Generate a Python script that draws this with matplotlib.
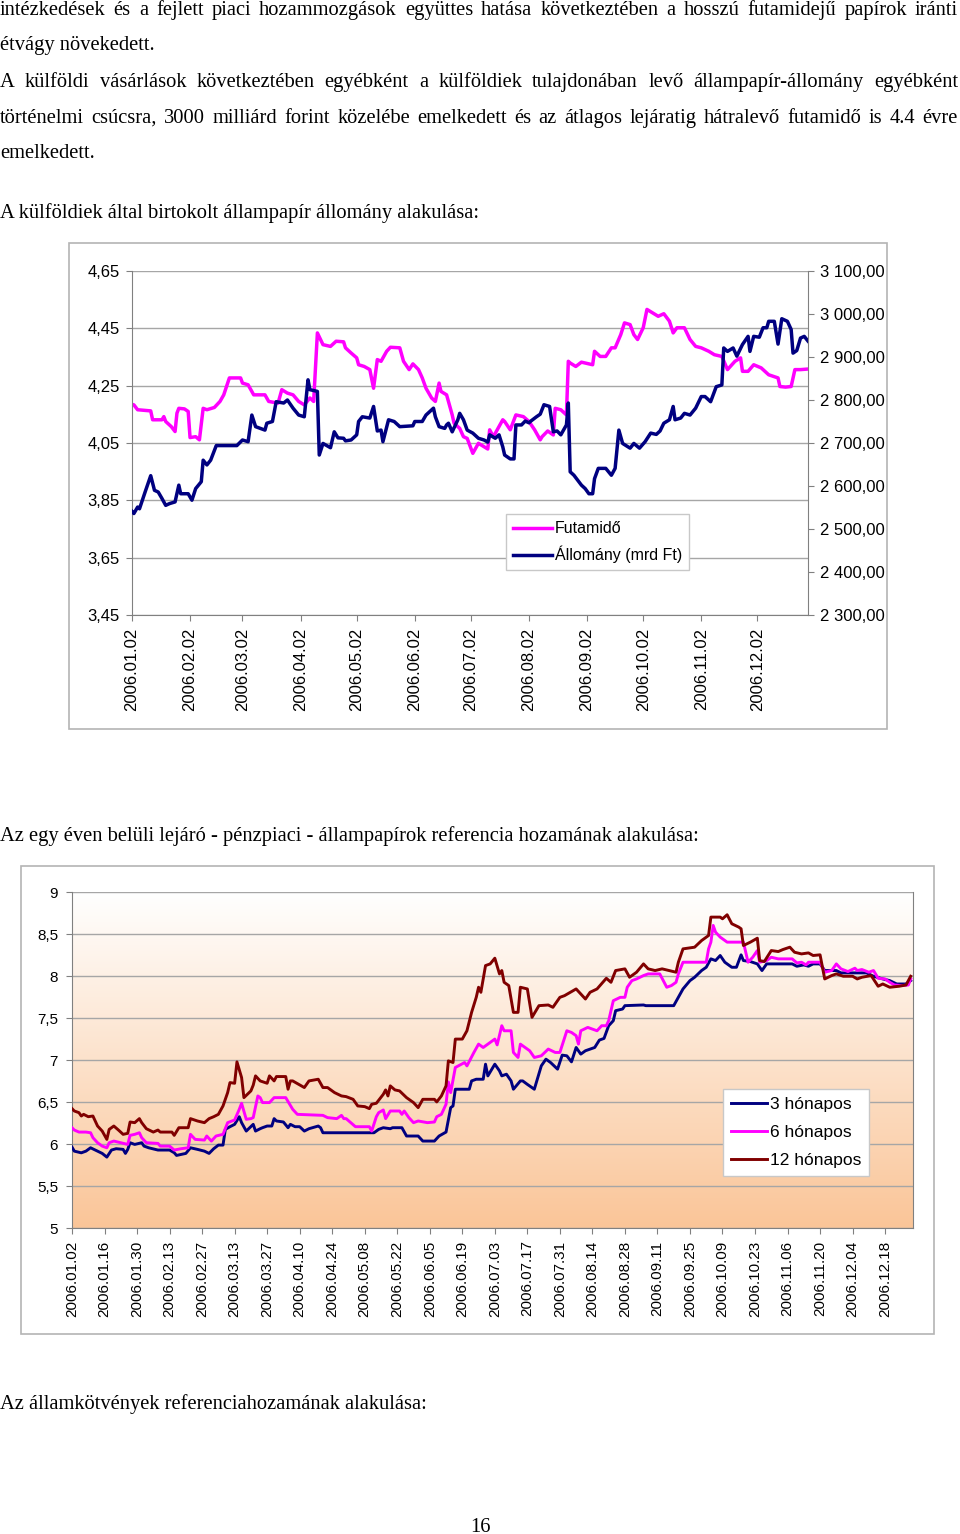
import numpy as np
import matplotlib
matplotlib.use('Agg')
import matplotlib.pyplot as plt
import matplotlib.dates as mdates
from matplotlib.patches import Rectangle
from matplotlib.ticker import FixedLocator, FuncFormatter

# ---------------- data ----------------
# Chart 1: days since 2006-01-02
fut_day = [0,1,3,10,11,16,17,18,21,23,
           24,25,28,30,31,34,36,38,40,44,
           47,49,52,58,59,62,65,71,73,78,
           80,83,86,89,92,95,97,99,102,106,
           109,113,114,117,120,121,124,127,129,131,
           133,136,138,143,145,148,150,153,155,157,
           160,162,164,165,168,171,172,175,177,179,
           182,185,188,190,191,193,196,198,199,202,
           205,209,212,215,218,219,222,225,226,229,
           232,233,234,237,240,242,246,247,250,253,
           256,258,261,263,266,268,270,273,275,278,
           281,284,287,289,291,295,298,301,304,308,
           311,315,318,322,325,326,329,332,336,340,
           345,346,349,352,354,357,361]
fut_val = [4.185,4.183,4.166,4.162,4.131,4.131,4.142,4.125,4.107,4.090,
           4.154,4.171,4.169,4.160,4.069,4.072,4.061,4.171,4.166,4.174,
           4.195,4.218,4.277,4.277,4.259,4.253,4.218,4.218,4.195,4.189,
           4.236,4.224,4.218,4.195,4.183,4.207,4.195,4.434,4.393,4.387,
           4.405,4.403,4.382,4.364,4.347,4.323,4.317,4.306,4.241,4.341,
           4.335,4.370,4.384,4.382,4.335,4.306,4.326,4.306,4.277,4.241,
           4.207,4.195,4.259,4.230,4.218,4.148,4.119,4.101,4.072,4.066,
           4.014,4.049,4.037,4.029,4.096,4.072,4.107,4.131,4.125,4.096,
           4.148,4.142,4.125,4.096,4.061,4.072,4.092,4.078,4.171,4.166,
           4.148,4.335,4.329,4.317,4.332,4.329,4.323,4.370,4.352,4.352,
           4.382,4.382,4.428,4.469,4.463,4.428,4.411,4.452,4.516,4.504,
           4.492,4.501,4.475,4.434,4.452,4.452,4.411,4.387,4.382,4.370,
           4.358,4.352,4.306,4.335,4.347,4.300,4.300,4.323,4.312,4.288,
           4.277,4.247,4.245,4.247,4.306,4.306,4.308]

all_day = [0,1,3,4,7,10,12,14,16,18,
           20,23,25,26,30,32,34,37,38,40,
           42,45,56,59,62,64,66,71,72,75,
           77,81,83,86,89,92,94,95,99,100,
           102,106,108,110,113,114,117,120,121,123,
           127,129,131,133,134,137,140,143,150,151,
           155,157,161,162,164,167,168,169,171,174,
           175,177,179,182,185,188,190,191,194,196,
           198,199,202,204,205,208,210,212,213,216,
           218,220,223,225,227,229,232,233,234,236,
           240,242,244,246,247,249,253,256,258,260,
           262,266,268,271,274,277,280,282,284,287,
           289,290,293,295,298,301,304,306,309,312,
           315,316,318,321,323,326,329,330,332,335,
           337,339,340,343,345,347,350,352,353,355,
           357,359,361]
all_val = [2541,2536,2551,2547,2586,2624,2590,2586,2571,2555,
           2559,2563,2602,2582,2582,2567,2594,2610,2660,2649,
           2660,2694,2694,2707,2703,2765,2738,2730,2746,2750,
           2796,2793,2800,2781,2765,2761,2847,2824,2820,2672,
           2699,2689,2726,2712,2711,2705,2707,2719,2750,2761,
           2758,2785,2728,2730,2703,2754,2750,2738,2740,2750,
           2750,2765,2781,2761,2738,2734,2742,2746,2726,2754,
           2769,2754,2730,2723,2711,2707,2702,2719,2711,2719,
           2691,2672,2663,2663,2742,2742,2751,2747,2751,2761,
           2767,2789,2785,2726,2728,2719,2742,2793,2633,2625,
           2602,2594,2582,2582,2617,2641,2641,2625,2641,2730,
           2699,2688,2699,2688,2703,2723,2720,2728,2746,2754,
           2785,2754,2758,2769,2765,2781,2808,2808,2796,2831,
           2835,2921,2913,2921,2902,2929,2948,2913,2948,2946,
           2968,2968,2983,2983,2930,2989,2983,2964,2909,2915,
           2944,2948,2937]

c1_tick_days = [0,31,59,90,120,151,181,212,243,273,304,334]
left_ticks = [3.45,3.65,3.85,4.05,4.25,4.45,4.65]
right_ticks = [2300,2400,2500,2600,2700,2800,2900,3000,3100]
c1_labels = ['Futamidő', 'Állomány (mrd Ft)']

# Chart 2
m3_day = [0,1,4,6,8,11,13,15,17,19,
          22,23,24,25,27,30,31,33,37,42,
          44,45,47,49,51,54,57,59,61,63,
          65,66,68,70,72,73,75,78,79,81,
          82,84,86,87,88,91,93,94,96,98,
          100,102,106,107,108,130,132,134,137,138,
          142,144,149,151,156,158,161,163,164,165,
          171,172,174,177,178,179,182,184,185,187,
          189,190,193,194,196,199,202,204,206,209,
          211,213,215,217,219,221,225,227,229,231,
          233,234,237,238,246,247,259,261,263,266,
          268,271,273,275,277,279,281,284,286,288,
          289,292,295,297,299,310,312,315,317,319,
          322,324,329,331,342,345,349,352,355,359,
          361]
m3_val = [5.963,5.915,5.895,5.915,5.955,5.915,5.888,5.844,5.928,5.944,
          5.936,5.888,5.936,6.015,5.995,6.015,5.975,5.955,5.928,5.928,
          5.896,5.864,5.876,5.888,5.955,5.936,5.915,5.888,5.944,5.987,
          5.987,6.174,6.206,6.234,6.325,6.254,6.154,6.234,6.154,6.182,
          6.194,6.214,6.214,6.302,6.274,6.262,6.194,6.234,6.206,6.206,
          6.154,6.182,6.214,6.194,6.134,6.134,6.174,6.194,6.182,6.194,
          6.194,6.095,6.095,6.035,6.035,6.095,6.142,6.433,6.453,6.652,
          6.652,6.751,6.771,6.771,6.950,6.811,6.950,6.871,6.811,6.831,
          6.751,6.652,6.751,6.751,6.710,6.652,6.930,7.010,6.970,6.891,
          7.058,7.050,6.978,7.149,7.070,7.110,7.149,7.237,7.257,7.408,
          7.468,7.587,7.607,7.647,7.655,7.647,7.647,7.746,7.846,7.945,
          7.985,8.065,8.104,8.204,8.184,8.244,8.164,8.104,8.104,8.252,
          8.184,8.172,8.144,8.065,8.144,8.144,8.116,8.132,8.116,8.144,
          8.144,8.065,8.065,8.037,8.037,7.997,7.965,7.945,7.905,7.905,
          7.945]

m6_day = [0,1,3,6,8,9,11,13,15,16,
          18,21,24,25,27,29,30,32,37,38,
          42,44,47,50,51,53,57,58,60,62,
          65,67,70,72,73,75,77,78,80,81,
          82,85,87,92,95,97,108,110,114,116,
          117,118,122,128,129,131,132,134,135,137,
          141,142,143,145,147,149,153,156,157,159,
          161,162,163,165,169,170,173,175,177,179,
          182,183,185,186,189,190,192,193,197,199,
          202,205,208,210,213,215,217,218,219,222,
          226,228,230,231,233,236,238,239,241,243,
          246,248,253,256,258,260,261,263,273,274,
          275,276,277,279,282,289,291,293,295,296,
          299,301,304,310,312,314,316,317,322,324,
          327,329,331,334,337,338,340,343,345,347,
          350,352,354,357,360,361]
m6_val = [6.194,6.166,6.142,6.142,6.134,6.075,6.015,5.975,5.955,6.015,
          6.035,6.015,5.995,6.103,6.115,6.134,6.075,6.015,6.007,5.975,
          5.975,5.928,5.944,5.955,6.115,6.055,6.047,6.095,6.035,6.095,
          6.115,6.254,6.286,6.413,6.485,6.294,6.302,6.314,6.572,6.552,
          6.493,6.493,6.552,6.552,6.413,6.353,6.341,6.314,6.302,6.341,
          6.302,6.302,6.206,6.206,6.154,6.325,6.373,6.405,6.302,6.393,
          6.393,6.353,6.393,6.314,6.254,6.274,6.254,6.262,6.325,6.353,
          6.473,6.739,6.612,6.911,6.970,6.930,7.090,7.189,7.149,7.189,
          7.249,7.180,7.408,7.348,7.348,7.090,7.030,7.189,7.110,7.030,
          7.050,7.130,7.090,7.090,7.348,7.328,7.289,7.189,7.348,7.388,
          7.348,7.408,7.408,7.468,7.706,7.746,7.746,7.866,7.945,7.965,
          8.005,8.025,8.025,7.866,7.886,7.925,8.025,8.164,8.164,8.323,
          8.403,8.602,8.522,8.463,8.403,8.403,8.164,8.223,8.303,8.164,
          8.184,8.223,8.204,8.204,8.156,8.164,8.132,8.164,8.164,8.045,
          8.065,8.144,8.085,8.053,8.093,8.065,8.077,8.045,8.065,7.973,
          7.965,7.925,7.893,7.886,7.893,7.965]

m12_day = [0,1,3,4,5,7,9,11,13,15,
           16,18,20,22,24,25,27,29,30,32,
           35,37,38,43,44,46,50,51,54,57,
           59,61,63,65,67,68,70,71,73,74,
           77,78,79,81,84,85,87,88,92,93,
           94,95,100,102,106,108,110,113,116,118,
           121,123,126,128,129,131,134,135,136,137,
           139,141,144,147,149,151,156,157,159,161,
           162,164,165,168,170,172,174,175,176,178,
           180,182,184,185,186,188,190,192,193,196,
           198,201,205,207,210,212,217,219,221,223,
           226,230,232,234,238,240,243,246,248,251,
           254,260,261,263,268,271,274,275,279,280,
           282,284,287,288,289,292,295,296,298,301,
           304,306,309,311,314,317,319,322,324,327,
           329,332,336,338,340,344,347,349,352,356,
           359,361]
m12_val = [6.421,6.393,6.373,6.333,6.353,6.325,6.333,6.214,6.154,6.055,
           6.174,6.214,6.166,6.115,6.127,6.262,6.254,6.302,6.254,6.182,
           6.142,6.166,6.142,6.142,6.103,6.194,6.194,6.302,6.274,6.254,
           6.302,6.325,6.353,6.453,6.612,6.731,6.723,6.978,6.791,6.552,
           6.632,6.700,6.811,6.751,6.723,6.811,6.751,6.803,6.803,6.652,
           6.751,6.751,6.672,6.751,6.771,6.672,6.672,6.612,6.572,6.564,
           6.532,6.453,6.445,6.421,6.473,6.485,6.592,6.644,6.572,6.692,
           6.644,6.632,6.552,6.493,6.433,6.532,6.532,6.501,6.572,6.692,
           6.990,6.970,7.249,7.249,7.348,7.567,7.746,7.866,7.806,8.124,
           8.144,8.212,8.025,8.065,7.925,7.886,7.567,7.567,7.866,7.846,
           7.508,7.647,7.655,7.627,7.746,7.766,7.846,7.786,7.726,7.806,
           7.846,7.973,7.925,8.065,8.085,7.985,8.045,8.144,8.085,8.065,
           8.085,8.045,8.164,8.323,8.343,8.422,8.482,8.701,8.701,8.681,
           8.729,8.622,8.582,8.562,8.363,8.403,8.450,8.184,8.172,8.303,
           8.291,8.315,8.343,8.283,8.263,8.275,8.244,8.252,7.965,8.005,
           8.025,7.997,7.997,7.965,7.985,8.005,7.878,7.905,7.866,7.878,
           7.893,7.997]

c2_tick_days = list(range(0, 351, 14))
c2_yticks = [5, 5.5, 6, 6.5, 7, 7.5, 8, 8.5, 9]
c2_labels = ['3 hónapos', '6 hónapos', '12 hónapos']

para_lines = [
    "intézkedések és a fejlett piaci hozammozgások együttes hatása következtében a hosszú futamidejű papírok iránti",
    "étvágy növekedett.",
    "A külföldi vásárlások következtében egyébként a külföldiek tulajdonában levő állampapír-állomány egyébként",
    "történelmi csúcsra, 3000 milliárd forint közelébe emelkedett és az átlagos lejáratig hátralevő futamidő is 4.4 évre",
    "emelkedett.",
    "A külföldiek által birtokolt állampapír állomány alakulása:",
]
caption2 = "Az egy éven belüli lejáró - pénzpiaci - állampapírok referencia hozamának alakulása:"
caption3 = "Az államkötvények referenciahozamának alakulása:"
page_no = "16"

# ---------------- figure ----------------
W, H = 960, 1534
fig = plt.figure(figsize=(W / 100, H / 100), dpi=100)
renderer = fig.canvas.get_renderer()
SERIF = 'Liberation Serif'
SANS = 'Liberation Sans'
BODY = 14.8


def fx(x):
    return x / W


def fy(y):
    return 1 - y / H


def line_text(s, y, justify=False, x0=0, x1=958):
    if not justify:
        fig.text(fx(x0), fy(y), s, fontsize=BODY, family=SERIF, va='baseline', ha='left')
        return
    words = s.split(' ')
    ts = [fig.text(0, fy(y), w, fontsize=BODY, family=SERIF, va='baseline', ha='left') for w in words]
    ws = [t.get_window_extent(renderer).width for t in ts]
    gap = (x1 - x0 - sum(ws)) / (len(words) - 1)
    x = x0
    for t, w in zip(ts, ws):
        t.set_x(fx(x))
        x += w + gap


line_y = [15, 50, 87, 123, 158, 218]
line_just = [True, False, True, True, False, False]
for s, y, j in zip(para_lines, line_y, line_just):
    line_text(s, y, j)
line_text(caption2, 841)
line_text(caption3, 1409)
fig.text(fx(480), fy(1532), page_no, fontsize=BODY, family=SERIF, va='baseline', ha='center')

base = np.datetime64('2006-01-02')


def to_dates(days):
    return base + np.array(days, dtype='timedelta64[D]')


GRID = '#a6a6a6'
AXC = '#808080'

# ---- chart 1 ----
fig.add_artist(Rectangle((fx(69), fy(729)), fx(887) - fx(69), (729 - 243) / H,
                         transform=fig.transFigure, fill=False, edgecolor='#b4b4b4', lw=1.2))
ax1 = fig.add_axes([fx(132), fy(615), fx(808) - fx(132), (615 - 271) / H])
ax1.set_facecolor('white')
l1, = ax1.plot(to_dates(fut_day), fut_val, color='#FF00FF', lw=2.5, solid_joinstyle='round')
ax1.set_ylim(3.45, 4.65)
ax1.set_xlim(base, base + np.timedelta64(361, 'D'))
ax1.yaxis.set_major_locator(FixedLocator(left_ticks))
ax1.yaxis.set_major_formatter(FuncFormatter(lambda v, p: f"{v:.2f}".replace('.', ',')))
ax1.grid(axis='y', color=GRID, lw=1)
ax1.set_axisbelow(True)
ax1.xaxis.set_major_locator(FixedLocator(mdates.date2num(to_dates(c1_tick_days))))
ax1.xaxis.set_major_formatter(mdates.DateFormatter('%Y.%m.%d'))
ax1.tick_params(axis='x', rotation=90, labelsize=12, length=4, pad=5, color=AXC)
ax1.tick_params(axis='y', labelsize=12, length=4, pad=5, color=AXC)
for lab in ax1.get_xticklabels() + ax1.get_yticklabels():
    lab.set_family(SANS)
for sp in ['top', 'right']:
    ax1.spines[sp].set_visible(False)
for sp in ['left', 'bottom']:
    ax1.spines[sp].set_color(AXC)

ax2 = ax1.twinx()
l2, = ax2.plot(to_dates(all_day), all_val, color='#000080', lw=2.5, solid_joinstyle='round')
ax2.set_ylim(2300, 3100)
ax2.yaxis.set_major_locator(FixedLocator(right_ticks))
ax2.yaxis.set_major_formatter(FuncFormatter(
    lambda v, p: f"{v:,.2f}".replace(',', ' ').replace('.', ',')))
ax2.tick_params(axis='y', labelsize=12, length=4, pad=5, color=AXC)
for lab in ax2.get_yticklabels():
    lab.set_family(SANS)
for sp in ['top', 'left', 'bottom']:
    ax2.spines[sp].set_visible(False)
ax2.spines['right'].set_color(AXC)
leg1 = ax2.legend([l1, l2], c1_labels, loc='upper left',
                  bbox_to_anchor=(fx(506), fy(514)), bbox_transform=fig.transFigure,
                  borderaxespad=0, fancybox=False, framealpha=1, edgecolor='#c8c8c8',
                  prop={'family': SANS, 'size': 11.5}, handlelength=2.4, handletextpad=0.2,
                  labelspacing=0.6, borderpad=0.45)
leg1.get_frame().set_linewidth(1)

# ---- chart 2 ----
fig.add_artist(Rectangle((fx(21), fy(1334)), fx(934) - fx(21), (1334 - 866) / H,
                         transform=fig.transFigure, fill=False, edgecolor='#b4b4b4', lw=1.2))
ax3 = fig.add_axes([fx(72), fy(1228), fx(913) - fx(72), (1228 - 892) / H])
top_c = np.array([255, 255, 255]) / 255
bot_c = np.array([250, 197, 152]) / 255
t = np.linspace(0, 1, 256)[:, None]
grad = top_c[None, :] * (1 - t) + bot_c[None, :] * t
ax3.imshow(grad[:, None, :], extent=[0, 1, 0, 1], transform=ax3.transAxes,
           aspect='auto', zorder=0, interpolation='bilinear')
ax3.plot(to_dates(m3_day), m3_val, color='#000080', lw=2.1, label=c2_labels[0], zorder=3)
ax3.plot(to_dates(m6_day), m6_val, color='#FF00FF', lw=2.1, label=c2_labels[1], zorder=4)
ax3.plot(to_dates(m12_day), m12_val, color='#800000', lw=2.1, label=c2_labels[2], zorder=5)
ax3.set_xlim(base, base + np.timedelta64(362, 'D'))
ax3.set_ylim(5, 9)
ax3.yaxis.set_major_locator(FixedLocator(c2_yticks))
ax3.yaxis.set_major_formatter(FuncFormatter(lambda v, p: f"{v:g}".replace('.', ',')))
ax3.grid(axis='y', color=GRID, lw=1, zorder=1)
ax3.xaxis.set_major_locator(FixedLocator(mdates.date2num(to_dates(c2_tick_days))))
ax3.xaxis.set_major_formatter(mdates.DateFormatter('%Y.%m.%d'))
ax3.tick_params(axis='x', rotation=90, labelsize=11, length=4, pad=5, color=AXC)
ax3.tick_params(axis='y', labelsize=11, length=4, pad=6, color=AXC)
for lab in ax3.get_xticklabels() + ax3.get_yticklabels():
    lab.set_family(SANS)
ax3.spines['top'].set_visible(False)
for sp in ['left', 'bottom', 'right']:
    ax3.spines[sp].set_color(AXC)
leg2 = ax3.legend(loc='upper left', bbox_to_anchor=(fx(723), fy(1089)), bbox_transform=fig.transFigure,
                  borderaxespad=0, fancybox=False, framealpha=1, edgecolor='#c8c8c8',
                  prop={'family': SANS, 'size': 12.5}, handlelength=2.1, handletextpad=0.15,
                  labelspacing=0.75, borderpad=0.45)
leg2.get_frame().set_linewidth(1)
leg2.set_zorder(10)

fig.savefig('out.png', dpi=100)
